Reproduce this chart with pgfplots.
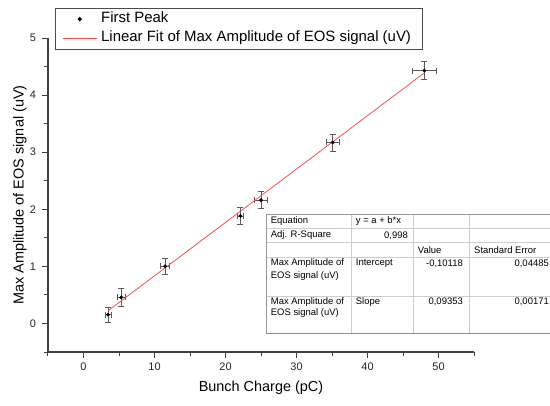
\documentclass[border=0pt]{standalone}
\usepackage{fontspec}
\setmainfont{Liberation Sans}
\usepackage{pgfplots}
\pgfplotsset{compat=1.18}
\usepackage{pgfplotstable}

\definecolor{fitred}{RGB}{240,80,80}
\definecolor{axgray}{RGB}{64,64,64}
\definecolor{errgray}{RGB}{90,90,90}
\definecolor{gridgray}{RGB}{205,205,205}
\definecolor{boxgray}{RGB}{150,150,150}

% first peak: bunch charge (pC), max amplitude (uV), errors
\pgfplotstableread{
x      y      ex    ey
3.45   0.153  0.42  0.135
5.31   0.458  0.59  0.15
11.5   1.003  0.61  0.14
22.1   1.884  0.47  0.15
25.0   2.16   0.87  0.15
35.1   3.17   0.89  0.15
48.0   4.43   1.64  0.16
}\peakdata

\begin{document}
\begin{tikzpicture}[x=1bp,y=1bp]
\path[use as bounding box] (-48,-53) rectangle (502,352);
\begin{axis}[
    scale only axis,
    width=426bp, height=314bp,
    at={(0,0)}, anchor=south west,
    xmin=-5, xmax=55, ymin=-0.5, ymax=5,
    axis x line=bottom, axis y line=left,
    axis line style={-, line width=1.2bp, axgray},
    xtick={0,10,...,50}, ytick={0,1,...,5},
    minor xtick={-5,5,...,55}, minor ytick={-0.5,0.5,...,4.5},
    tick align=outside,
    major tick length=6bp, minor tick length=3.5bp,
    tick style={line width=1bp, axgray},
    /pgf/number format/assume math mode=true,
    ticklabel style={font=\fontsize{11}{13}\selectfont, text=black!85},
    xticklabel style={yshift=-1.5bp},
    yticklabel style={xshift=-2.5bp},
    label style={font=\fontsize{14.5}{17}\selectfont},
    xlabel={Bunch Charge (pC)},
    ylabel={Max Amplitude of EOS signal (uV)},
    xlabel style={at={(axis description cs:0.5,-0.115)}, anchor=center},
    ylabel style={at={(axis description cs:-0.066,0.5)}, anchor=center},
    legend style={at={(axis description cs:0.0164,1.0955)}, anchor=north west,
        draw=black!70, line width=0.8bp, fill=white,
        font=\fontsize{15}{17}\selectfont,
        inner xsep=7bp, inner ysep=1.5bp, row sep=0.5bp,
        nodes={inner xsep=4bp, inner ysep=2bp, text height=11bp, text depth=3.5bp},
        cells={anchor=west}},
    legend cell align=left,
    clip=false,
]
\addplot[only marks, mark=*, mark size=1.7bp, black,
    legend image code/.code={\path (0bp,0bp) (34bp,0bp);
        \fill[black] (17bp,0bp) circle (1.7bp);},
    error bars/.cd, x dir=both, x explicit, y dir=both, y explicit,
    error bar style={errgray, line width=0.7bp},
    error mark options={errgray, line width=0.7bp, mark size=3bp, rotate=90}]
    table[x=x, y=y, x error=ex, y error=ey] {\peakdata};
\addlegendentry{First Peak}
\addplot[fitred, line width=0.8bp,
    legend image code/.code={\draw[fitred, line width=0.8bp] (0bp,0bp) -- (34bp,0bp);}]
    coordinates {(3.45,0.2215) (48.0,4.3883)};
\addlegendentry{Linear Fit of Max Amplitude of EOS signal (uV)}
\end{axis}

% results table of the fit
\fill[white] (218,19) rectangle (503,138);
\draw[gridgray, line width=0.6bp]
    (218,124) -- (503,124)
    (218,109.5) -- (503,109.5)
    (218,94.5) -- (503,94.5)
    (218,56) -- (503,56)
    (303,19) -- (303,138)
    (365,19) -- (365,138)
    (421,19) -- (421,138);
\draw[boxgray, line width=1bp] (218,19) rectangle (503,138);
\draw[black!45, line width=1.2bp] (219,18.4) -- (503,18.4);
\begin{scope}[every node/.style={font=\fontsize{9.5}{11}\selectfont, inner sep=0pt}]
\node[anchor=west] at (222.7,131) {Equation};
\node[anchor=west] at (307.7,131) {y = a + b*x};
\node[anchor=west] at (222.7,116.5) {Adj. R-Square};
\node[anchor=east] at (360,116.5) {0,998};
\node[anchor=west] at (369.7,102) {Value};
\node[anchor=west] at (426,102) {Standard Error};
\node[anchor=west] at (222.7,88.7) {Max Amplitude of};
\node[anchor=west] at (222.7,76) {EOS signal (uV)};
\node[anchor=west] at (307.7,88.7) {Intercept};
\node[anchor=east] at (415,88.7) {-0,10118};
\node[anchor=east] at (501,88.7) {0,04485};
\node[anchor=west] at (222.7,50.3) {Max Amplitude of};
\begin{scope}
\clip (218,36) rectangle (303,56);
\node[anchor=west] at (222.7,38.7) {EOS signal (uV)};
\end{scope}
\node[anchor=west] at (307.7,50.3) {Slope};
\node[anchor=east] at (415,50.3) {0,09353};
\node[anchor=east] at (501,50.3) {0,00171};
\end{scope}
\end{tikzpicture}
\end{document}
